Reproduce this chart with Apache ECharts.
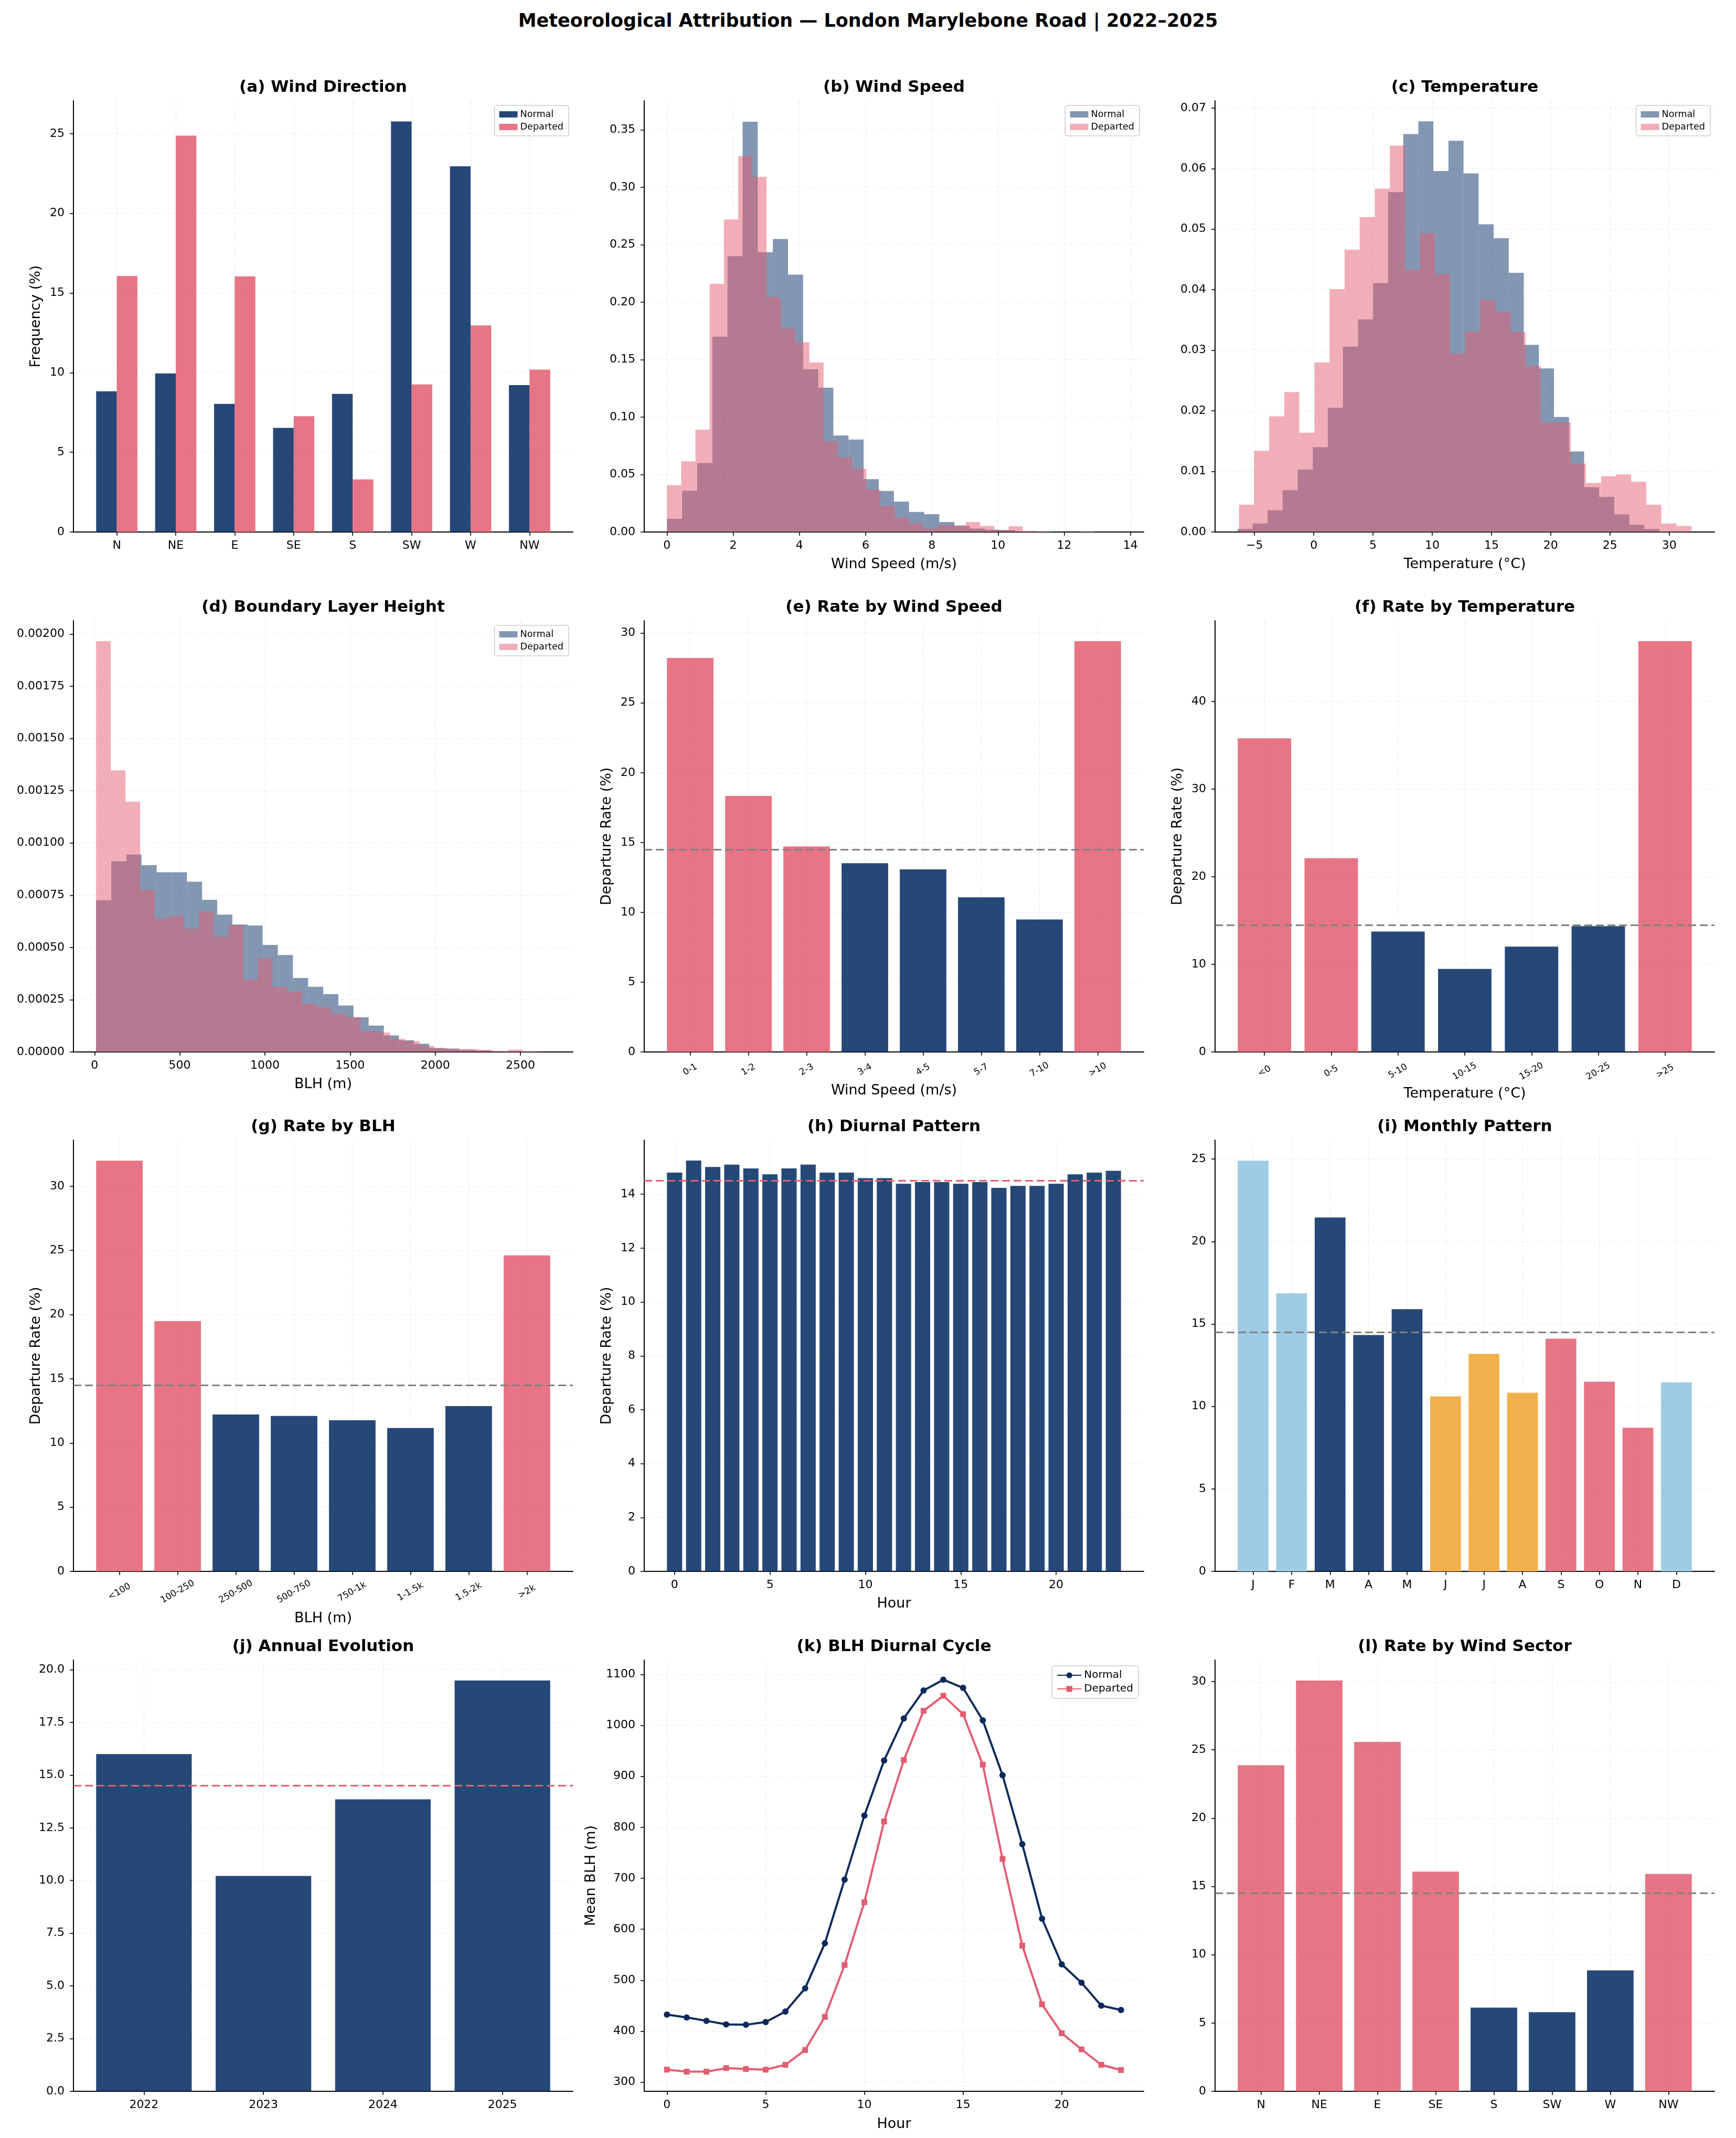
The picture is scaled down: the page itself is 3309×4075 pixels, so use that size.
<!DOCTYPE html>
<html>
<head>
<meta charset="utf-8">
<script src="https://cdn.jsdelivr.net/npm/echarts@6/dist/echarts.min.js"></script>
<style>
  body { margin: 0; background: #fff; width: 3309px; height: 4075px; position: relative; overflow: hidden; }
  #suptitle { position: absolute; left: 0; top: 19px; width: 3309px; line-height: 40px; text-align: center;
              font: bold 35px 'DejaVu Sans'; color: #000; }
</style>
</head>
<body>
<div id="suptitle">Meteorological Attribution — London Marylebone Road | 2022–2025</div>
<script>
// ---- data ----
const WIND_DIRS = ['N', 'NE', 'E', 'SE', 'S', 'SW', 'W', 'NW'];
const DIR_FREQ_NORMAL = [8.83, 9.95, 8.04, 6.54, 8.67, 25.77, 22.95, 9.22];
const DIR_FREQ_DEPARTED = [16.07, 24.88, 16.05, 7.27, 3.30, 9.26, 12.97, 10.19];

// histograms: density per bin, bins start at *_START with width *_WIDTH
const WS_NORMAL_START = 0, WS_NORMAL_WIDTH = 0.457;
const WS_NORMAL = [0.0115, 0.036, 0.060, 0.170, 0.240, 0.357, 0.2435, 0.255, 0.224, 0.1415, 0.1255, 0.084,
  0.0805, 0.046, 0.0357, 0.0265, 0.0175, 0.0155, 0.0087, 0.0053, 0.003, 0.002, 0.0017, 0.0005, 0.0003,
  0.0002, 0.0001, 0.0001, 0, 0.0001];
const WS_DEPARTED_START = 0, WS_DEPARTED_WIDTH = 0.43;
const WS_DEPARTED = [0.0407, 0.0615, 0.089, 0.216, 0.272, 0.327, 0.309, 0.2045, 0.177, 0.165, 0.1475, 0.079,
  0.065, 0.055, 0.037, 0.0225, 0.0126, 0.0076, 0.003, 0.006, 0.006, 0.0087, 0.0053, 0.0017, 0.005, 0.001,
  0.0006, 0, 0, 0.0005];

const T_NORMAL_START = -6.44, T_NORMAL_WIDTH = 1.272;
const T_NORMAL = [0.0005, 0.0014, 0.0036, 0.0069, 0.0103, 0.0140, 0.0205, 0.0306, 0.0351, 0.0411, 0.0561,
  0.0657, 0.0678, 0.0596, 0.0646, 0.0592, 0.0508, 0.0485, 0.0428, 0.0309, 0.0270, 0.0190, 0.0133, 0.0074,
  0.0058, 0.0029, 0.0012, 0.0005, 0.0001, 0.0001];
const T_DEPARTED_START = -6.31, T_DEPARTED_WIDTH = 1.273;
const T_DEPARTED = [0.0045, 0.0134, 0.0191, 0.0231, 0.0164, 0.0280, 0.0401, 0.0466, 0.0520, 0.0567, 0.0638,
  0.0433, 0.0493, 0.0426, 0.0295, 0.0331, 0.0383, 0.0363, 0.0330, 0.0274, 0.0181, 0.0181, 0.0113, 0.0081,
  0.0092, 0.0095, 0.0083, 0.0045, 0.0014, 0.0010];

const BLH_NORMAL_START = 8.8, BLH_NORMAL_WIDTH = 88.9;
const BLH_NORMAL = [0.000726, 0.000913, 0.000945, 0.000894, 0.00086, 0.00086, 0.000815, 0.000728, 0.000657,
  0.00061, 0.000605, 0.000512, 0.000464, 0.000354, 0.000312, 0.000277, 0.000222, 0.000166, 0.000126,
  0.000079, 0.000056, 0.000039, 0.000019, 0.000016, 0.00001, 0.000007, 0.000004, 0.000003, 0.000002, 0.000001];
const BLH_DEPARTED_START = 8.8, BLH_DEPARTED_WIDTH = 86.3;
const BLH_DEPARTED = [0.001966, 0.001348, 0.001198, 0.000776, 0.000638, 0.000651, 0.000589, 0.000673,
  0.000552, 0.000607, 0.000346, 0.000448, 0.000312, 0.00029, 0.000229, 0.000214, 0.000184, 0.000167,
  0.0001, 0.000093, 0.000063, 0.000052, 0.000029, 0.000018, 0.000014, 0.000014, 0.00001, 0.000003,
  0.000011, 0.000003];

const OVERALL_RATE = 14.5;

const WS_CLASSES = ['0-1', '1-2', '2-3', '3-4', '4-5', '5-7', '7-10', '>10'];
const RATE_BY_WS = [28.22, 18.34, 14.72, 13.52, 13.08, 11.08, 9.49, 29.42];

const T_CLASSES = ['<0', '0-5', '5-10', '10-15', '15-20', '20-25', '>25'];
const RATE_BY_T = [35.78, 22.11, 13.74, 9.48, 12.02, 14.36, 46.87];

const BLH_CLASSES = ['<100', '100-250', '250-500', '500-750', '750-1k', '1-1.5k', '1.5-2k', '>2k'];
const RATE_BY_BLH = [31.99, 19.49, 12.22, 12.11, 11.77, 11.17, 12.87, 24.61];

const HOURS = [0, 1, 2, 3, 4, 5, 6, 7, 8, 9, 10, 11, 12, 13, 14, 15, 16, 17, 18, 19, 20, 21, 22, 23];
const RATE_BY_HOUR = [14.80, 15.25, 15.01, 15.10, 14.96, 14.74, 14.96, 15.10, 14.80, 14.80, 14.60, 14.60,
  14.39, 14.45, 14.45, 14.39, 14.45, 14.24, 14.31, 14.31, 14.39, 14.74, 14.80, 14.87];

const MONTHS = ['J', 'F', 'M', 'A', 'M', 'J', 'J', 'A', 'S', 'O', 'N', 'D'];
const MONTH_SEASON = ['winter', 'winter', 'spring', 'spring', 'spring', 'summer', 'summer', 'summer',
  'autumn', 'autumn', 'autumn', 'winter'];
const RATE_BY_MONTH = [24.90, 16.86, 21.46, 14.33, 15.90, 10.61, 13.19, 10.83, 14.11, 11.50, 8.71, 11.46];

const YEARS = ['2022', '2023', '2024', '2025'];
const RATE_BY_YEAR = [16.0, 10.22, 13.85, 19.49];

const BLH_HOURLY_NORMAL = [432.7, 426.9, 420.4, 413.4, 412.7, 417.9, 438.5, 484.2, 572.5, 697.4, 823.0, 931.2,
  1013.7, 1068.4, 1089.7, 1073.6, 1009.8, 902.3, 767.0, 620.8, 531.2, 495.2, 450.1, 441.7];
const BLH_HOURLY_DEPARTED = [324.5, 320.6, 320.6, 327.7, 325.8, 324.5, 334.1, 363.1, 428.2, 530.0, 653.0, 811.4,
  931.9, 1028.5, 1058.1, 1022.1, 922.9, 738.0, 568.0, 452.7, 396.0, 364.4, 334.1, 323.8];

const RATE_BY_SECTOR = [23.87, 30.07, 25.58, 16.08, 6.13, 5.79, 8.85, 15.91];

// tick positions
const IDX8 = [0, 1, 2, 3, 4, 5, 6, 7];
const IDX7 = [0, 1, 2, 3, 4, 5, 6];
const IDX12 = [0, 1, 2, 3, 4, 5, 6, 7, 8, 9, 10, 11];
const IDX4 = [0, 1, 2, 3];
const TICKS_0_25 = [0, 5, 10, 15, 20, 25];
const TICKS_0_30 = [0, 5, 10, 15, 20, 25, 30];
const TICKS_0_40 = [0, 10, 20, 30, 40];
const TICKS_0_14_BY2 = [0, 2, 4, 6, 8, 10, 12, 14];
const TICKS_WS = [0, 2, 4, 6, 8, 10, 12, 14];
const TICKS_WS_DENS = [0, 0.05, 0.10, 0.15, 0.20, 0.25, 0.30, 0.35];
const TICKS_T = [-5, 0, 5, 10, 15, 20, 25, 30];
const TICKS_T_DENS = [0, 0.01, 0.02, 0.03, 0.04, 0.05, 0.06, 0.07];
const TICKS_BLH = [0, 500, 1000, 1500, 2000, 2500];
const TICKS_BLH_DENS = [0, 0.00025, 0.0005, 0.00075, 0.001, 0.00125, 0.0015, 0.00175, 0.002];
const TICKS_HOUR = [0, 5, 10, 15, 20];
const TICKS_YEAR_RATE = [0, 2.5, 5, 7.5, 10, 12.5, 15, 17.5, 20];
const TICKS_BLH_MEAN = [300, 400, 500, 600, 700, 800, 900, 1000, 1100];

// ---- styles ----
const FONT = 'DejaVu Sans';
const NAVY_BAR = 'rgba(0,40,95,0.85)';
const PINK_BAR = 'rgba(227,93,113,0.85)';
const NAVY_HIST = 'rgba(7,47,101,0.5)';
const PINK_HIST = 'rgba(227,93,113,0.5)';
const NAVY_LINE = '#0b2a5b';
const PINK_LINE = '#e35d71';
const MEAN_GRAY = '#808080';
const SEASON_COLOR = { winter: '#9fcbe4', spring: NAVY_BAR, summer: '#f1b04b', autumn: PINK_BAR };

const GRID_LEFT = [140, 1228, 2316];
const GRID_TOP = [192, 1183, 2173, 3164];
const GW = 952, GH = 822;
const HALF = 616, PAD_TOP = 120;

function panel(col, row, title, opt) {
  const cx = GRID_LEFT[col] + GW / 2;
  const el = document.createElement('div');
  el.style.cssText = 'position:absolute;left:' + (cx - HALF) + 'px;top:' + (GRID_TOP[row] - PAD_TOP) +
    'px;width:' + (2 * HALF) + 'px;height:' + (GH + 240) + 'px;';
  document.body.appendChild(el);
  const chart = echarts.init(el);
  opt.animation = false;
  opt.grid = { left: HALF - GW / 2, top: PAD_TOP, width: GW, height: GH };
  opt.title = {
    text: title, left: 'center', top: PAD_TOP - 41, padding: 0,
    textStyle: { fontFamily: FONT, fontWeight: 'bold', fontSize: 31, color: '#000' }
  };
  chart.setOption(opt);
}

const plain = v => String(v);

function axis(min, max, ticks, fmt) {
  return {
    type: 'value', min: min, max: max,
    axisLine: { show: true, onZero: false, lineStyle: { color: '#000', width: 2 } },
    axisTick: { show: true, customValues: ticks, length: 7, lineStyle: { color: '#000', width: 1.6 } },
    axisLabel: { customValues: ticks, formatter: fmt || plain, color: '#000', fontFamily: FONT, fontSize: 22 },
    splitLine: { show: true, lineStyle: { color: '#ebebeb', width: 1.2, type: [6, 4] } },
    nameTextStyle: { fontFamily: FONT, fontSize: 27, color: '#000' }
  };
}

function xAx(min, max, ticks, fmt, name, gap, labelExtra) {
  const a = axis(min, max, ticks, fmt);
  a.axisLabel.margin = 15;
  if (name) { a.name = name; a.nameLocation = 'middle'; a.nameGap = gap; }
  if (labelExtra) Object.assign(a.axisLabel, labelExtra);
  return a;
}

function yAx(min, max, ticks, fmt, name, gap) {
  const a = axis(min, max, ticks, fmt);
  a.axisLabel.margin = 17;
  if (name) { a.name = name; a.nameLocation = 'middle'; a.nameGap = gap; }
  return a;
}

const ROT = { rotate: 30, align: 'center', verticalAlign: 'middle', fontSize: 17 };

function histSeries(name, start, width, dens, color) {
  return {
    type: 'custom', name: name, itemStyle: { color: color },
    data: dens.map((d, i) => [start + i * width, start + (i + 1) * width, d]),
    encode: { x: [0, 1], y: 2 },
    renderItem: function (params, api) {
      const a = api.coord([api.value(0), api.value(2)]);
      const b = api.coord([api.value(1), 0]);
      return { type: 'rect', shape: { x: a[0], y: a[1], width: b[0] - a[0], height: b[1] - a[1] }, style: { fill: color } };
    }
  };
}

function barSeries(name, xs, values, width, colorOf, mean, meanColor) {
  const s = {
    type: 'custom', name: name,
    itemStyle: { color: colorOf(values[0], 0) },
    data: values.map((v, i) => [xs[i], v]),
    encode: { x: 0, y: 1 },
    renderItem: function (params, api) {
      const x = api.value(0), v = api.value(1);
      const a = api.coord([x - width / 2, v]);
      const b = api.coord([x + width / 2, 0]);
      return { type: 'rect', shape: { x: a[0], y: a[1], width: b[0] - a[0], height: b[1] - a[1] },
        style: { fill: colorOf(v, params.dataIndex) } };
    }
  };
  if (mean != null) {
    s.markLine = {
      silent: true, symbol: 'none', label: { show: false }, animation: false,
      lineStyle: { color: meanColor, type: [15, 7], width: 3 },
      data: [{ yAxis: mean }]
    };
  }
  return s;
}

function legendBox(items, fontSize, right, top, iw, ih) {
  return {
    orient: 'vertical', right: right, top: top, itemWidth: iw, itemHeight: ih, itemGap: 6,
    padding: [8, 10, 8, 9], borderColor: '#cccccc', borderWidth: 1.5, borderRadius: 4,
    backgroundColor: 'rgba(255,255,255,0.8)', selectedMode: false,
    textStyle: { fontFamily: FONT, fontSize: fontSize, color: '#000' }, data: items
  };
}

const histLegend = legendBox([
  { name: 'Normal', icon: 'rect', itemStyle: { color: NAVY_HIST } },
  { name: 'Departed', icon: 'rect', itemStyle: { color: PINK_HIST } }
], 17.6, HALF - GW / 2 + 8, PAD_TOP + 9, 35, 12);

const aboveMean = v => (v > OVERALL_RATE ? PINK_BAR : NAVY_BAR);
const fmtCat = cats => v => cats[Math.round(v)];
const fmtMinus = v => (v < 0 ? '\u2212' + (-v) : String(v));

// (a) Wind Direction
panel(0, 0, '(a) Wind Direction', {
  xAxis: xAx(-0.735, 7.735, IDX8, fmtCat(WIND_DIRS)),
  yAxis: yAx(0, 27.07, TICKS_0_25, null, 'Frequency (%)', 58),
  legend: legendBox([
    { name: 'Normal', icon: 'rect', itemStyle: { color: NAVY_BAR } },
    { name: 'Departed', icon: 'rect', itemStyle: { color: PINK_BAR } }
  ], 17.6, HALF - GW / 2 + 8, PAD_TOP + 9, 35, 12),
  series: [
    barSeries('Normal', IDX8.map(i => i - 0.175), DIR_FREQ_NORMAL, 0.35, () => NAVY_BAR),
    barSeries('Departed', IDX8.map(i => i + 0.175), DIR_FREQ_DEPARTED, 0.35, () => PINK_BAR)
  ]
});

// (b) Wind Speed
panel(1, 0, '(b) Wind Speed', {
  xAxis: xAx(-0.686, 14.4, TICKS_WS, null, 'Wind Speed (m/s)', 48),
  yAxis: yAx(0, 0.3753, TICKS_WS_DENS, v => v.toFixed(2)),
  legend: histLegend,
  series: [
    histSeries('Normal', WS_NORMAL_START, WS_NORMAL_WIDTH, WS_NORMAL, NAVY_HIST),
    histSeries('Departed', WS_DEPARTED_START, WS_DEPARTED_WIDTH, WS_DEPARTED, PINK_HIST)
  ]
});

// (c) Temperature
panel(2, 0, '(c) Temperature', {
  xAxis: xAx(-8.33, 33.82, TICKS_T, fmtMinus, 'Temperature (°C)', 48),
  yAxis: yAx(0, 0.0712, TICKS_T_DENS, v => v.toFixed(2)),
  legend: histLegend,
  series: [
    histSeries('Normal', T_NORMAL_START, T_NORMAL_WIDTH, T_NORMAL, NAVY_HIST),
    histSeries('Departed', T_DEPARTED_START, T_DEPARTED_WIDTH, T_DEPARTED, PINK_HIST)
  ]
});

// (d) Boundary Layer Height
panel(0, 1, '(d) Boundary Layer Height', {
  xAxis: xAx(-124, 2808, TICKS_BLH, null, 'BLH (m)', 48),
  yAxis: yAx(0, 0.002064, TICKS_BLH_DENS, v => v.toFixed(5)),
  legend: histLegend,
  series: [
    histSeries('Normal', BLH_NORMAL_START, BLH_NORMAL_WIDTH, BLH_NORMAL, NAVY_HIST),
    histSeries('Departed', BLH_DEPARTED_START, BLH_DEPARTED_WIDTH, BLH_DEPARTED, PINK_HIST)
  ]
});

// (e) Rate by Wind Speed
panel(1, 1, '(e) Rate by Wind Speed', {
  xAxis: xAx(-0.79, 7.79, IDX8, fmtCat(WS_CLASSES), 'Wind Speed (m/s)', 60, Object.assign({ margin: 34 }, ROT)),
  yAxis: yAx(0, 30.89, TICKS_0_30, null, 'Departure Rate (%)', 58),
  series: [barSeries('rate', IDX8, RATE_BY_WS, 0.8, aboveMean, OVERALL_RATE, MEAN_GRAY)]
});

// (f) Rate by Temperature
panel(2, 1, '(f) Rate by Temperature', {
  xAxis: xAx(-0.74, 6.74, IDX7, fmtCat(T_CLASSES), 'Temperature (°C)', 66, Object.assign({ margin: 37 }, ROT)),
  yAxis: yAx(0, 49.21, TICKS_0_40, null, 'Departure Rate (%)', 58),
  series: [barSeries('rate', IDX7, RATE_BY_T, 0.8, aboveMean, OVERALL_RATE, MEAN_GRAY)]
});

// (g) Rate by BLH
panel(0, 2, '(g) Rate by BLH', {
  xAxis: xAx(-0.79, 7.79, IDX8, fmtCat(BLH_CLASSES), 'BLH (m)', 76, Object.assign({ margin: 39 }, ROT)),
  yAxis: yAx(0, 33.59, TICKS_0_30, null, 'Departure Rate (%)', 58),
  series: [barSeries('rate', IDX8, RATE_BY_BLH, 0.8, aboveMean, OVERALL_RATE, MEAN_GRAY)]
});

// (h) Diurnal Pattern
panel(1, 2, '(h) Diurnal Pattern', {
  xAxis: xAx(-1.59, 24.59, TICKS_HOUR, null, 'Hour', 48),
  yAxis: yAx(0, 16.01, TICKS_0_14_BY2, null, 'Departure Rate (%)', 58),
  series: [barSeries('rate', HOURS, RATE_BY_HOUR, 0.8, () => NAVY_BAR, OVERALL_RATE, PINK_LINE)]
});

// (i) Monthly Pattern
panel(2, 2, '(i) Monthly Pattern', {
  xAxis: xAx(-0.99, 11.99, IDX12, fmtCat(MONTHS)),
  yAxis: yAx(0, 26.15, TICKS_0_25, null),
  series: [barSeries('rate', IDX12, RATE_BY_MONTH, 0.8, (v, i) => SEASON_COLOR[MONTH_SEASON[i]], OVERALL_RATE, MEAN_GRAY)]
});

// (j) Annual Evolution
panel(0, 3, '(j) Annual Evolution', {
  xAxis: xAx(-0.59, 3.59, IDX4, fmtCat(YEARS)),
  yAxis: yAx(0, 20.46, TICKS_YEAR_RATE, v => v.toFixed(1)),
  series: [barSeries('rate', IDX4, RATE_BY_YEAR, 0.8, () => NAVY_BAR, OVERALL_RATE, PINK_LINE)]
});

// (k) BLH Diurnal Cycle
panel(1, 3, '(k) BLH Diurnal Cycle', {
  xAxis: xAx(-1.15, 24.15, TICKS_HOUR, null, 'Hour', 49),
  yAxis: yAx(282.1, 1128.2, TICKS_BLH_MEAN, null, 'Mean BLH (m)', 88),
  legend: legendBox(['Normal', 'Departed'], 20, HALF - GW / 2 + 10, PAD_TOP + 11, 46, 14),
  series: [
    { type: 'line', name: 'Normal', data: HOURS.map((h, i) => [h, BLH_HOURLY_NORMAL[i]]),
      symbol: 'circle', symbolSize: 12, color: NAVY_LINE, lineStyle: { width: 4, color: NAVY_LINE },
      itemStyle: { color: NAVY_LINE } },
    { type: 'line', name: 'Departed', data: HOURS.map((h, i) => [h, BLH_HOURLY_DEPARTED[i]]),
      symbol: 'rect', symbolSize: 11, color: PINK_LINE, lineStyle: { width: 4, color: PINK_LINE },
      itemStyle: { color: PINK_LINE } }
  ]
});

// (l) Rate by Wind Sector
panel(2, 3, '(l) Rate by Wind Sector', {
  xAxis: xAx(-0.79, 7.79, IDX8, fmtCat(WIND_DIRS)),
  yAxis: yAx(0, 31.57, TICKS_0_30, null),
  series: [barSeries('rate', IDX8, RATE_BY_SECTOR, 0.8, aboveMean, OVERALL_RATE, MEAN_GRAY)]
});
</script>
</body>
</html>
